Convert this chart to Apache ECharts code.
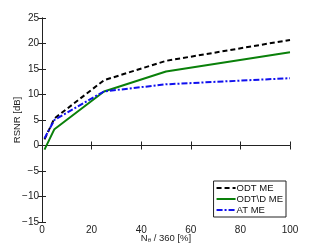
<!DOCTYPE html>
<html><head><meta charset="utf-8">
<script src="https://cdn.jsdelivr.net/npm/echarts@6/dist/echarts.min.js"></script>
<style>html,body{margin:0;padding:0;background:#fff}#c{width:320px;height:249px}</style>
</head><body><div id="c"></div>
<script>
const xValues = [1, 5, 25, 50, 100];
const odtME = [1.2, 5.3, 12.8, 16.6, 20.7];
const odtDME = [-0.8, 3.2, 10.6, 14.5, 18.3];
const atME = [1.4, 5.0, 10.6, 12.0, 13.2];
const seriesNames = ['ODT ME', 'ODT\\D ME', 'AT ME'];
const xTicks = [0, 20, 40, 60, 80, 100];
const yTicks = [-15, -10, -5, 0, 5, 10, 15, 20, 25];

const chart = echarts.init(document.getElementById('c'), null, {renderer: 'canvas'});
const font = 'Liberation Sans, Arial, sans-serif';
const pair = a => xValues.map((x, i) => [x, a[i]]);
const axisCommon = {
  axisLine: {show: true, lineStyle: {color: '#222', width: 1}},
  axisTick: {show: true, inside: true, length: 4, lineStyle: {color: '#222'}},
  splitLine: {show: false},
  axisLabel: {color: '#222', fontSize: 10, fontFamily: font}
};
chart.setOption({
  animation: false,
  grid: {left: 42, right: 30, top: 18, bottom: 27, show: false, containLabel: false, outerBoundsMode: 'none'},
  xAxis: [
    Object.assign({}, axisCommon, {type: 'value', min: xTicks[0], max: xTicks[xTicks.length - 1], interval: 20,
      name: '{a|N}{s|θ}{a| / 360 [%]}', nameLocation: 'middle', nameGap: 11, nameMoveOverlap: false,
      nameTextStyle: {rich: {a: {fontSize: 9.5, fontFamily: font, color: '#222'}, s: {fontSize: 6, fontFamily: font, color: '#222', padding: [4, 0, 0, 0]}}},
      axisLabel: {color: '#222', fontSize: 10, fontFamily: font, margin: 3}}),
    Object.assign({}, axisCommon, {type: 'value', position: 'top', min: 0, max: 100, interval: 20,
      axisLabel: {show: false}})
  ],
  yAxis: [
    Object.assign({}, axisCommon, {type: 'value', min: yTicks[0], max: yTicks[yTicks.length - 1], interval: 5,
      name: 'RSNR [dB]', nameLocation: 'middle', nameGap: 20, nameMoveOverlap: false,
      nameTextStyle: {fontSize: 9.5, fontFamily: font, color: '#222'},
      axisLabel: {color: '#222', fontSize: 10, fontFamily: font, margin: 3,
        formatter: v => (v < 0 ? '\u2212' + Math.abs(v) : '' + v)}}),
    Object.assign({}, axisCommon, {type: 'value', position: 'right', min: -15, max: 25, interval: 5,
      axisLabel: {show: false}})
  ],
  legend: {
    right: 34, bottom: 32, orient: 'vertical', itemWidth: 19, itemHeight: 6, itemGap: 1,
    padding: [2, 3, 2, 2], borderColor: '#222', borderWidth: 1, backgroundColor: '#fff',
    borderRadius: 0, itemStyle: {opacity: 0},
    textStyle: {fontSize: 9.5, fontFamily: font, color: '#111', padding: [0, 0, 0, -4]},
    data: seriesNames
  },
  series: [
    {name: seriesNames[0], type: 'line', data: pair(odtME), showSymbol: false, symbol: 'none',
      lineStyle: {color: '#000', width: 2, type: [5, 3]}, itemStyle: {color: '#000'}},
    {name: seriesNames[1], type: 'line', data: pair(odtDME), showSymbol: false, symbol: 'none',
      lineStyle: {color: '#0a800a', width: 2, type: 'solid'}, itemStyle: {color: '#0a800a'}},
    {name: seriesNames[2], type: 'line', data: pair(atME), showSymbol: false, symbol: 'none',
      lineStyle: {color: '#1010ee', width: 2, type: [6, 2, 2, 2]}, itemStyle: {color: '#1010ee'}}
  ]
});
</script></body></html>
